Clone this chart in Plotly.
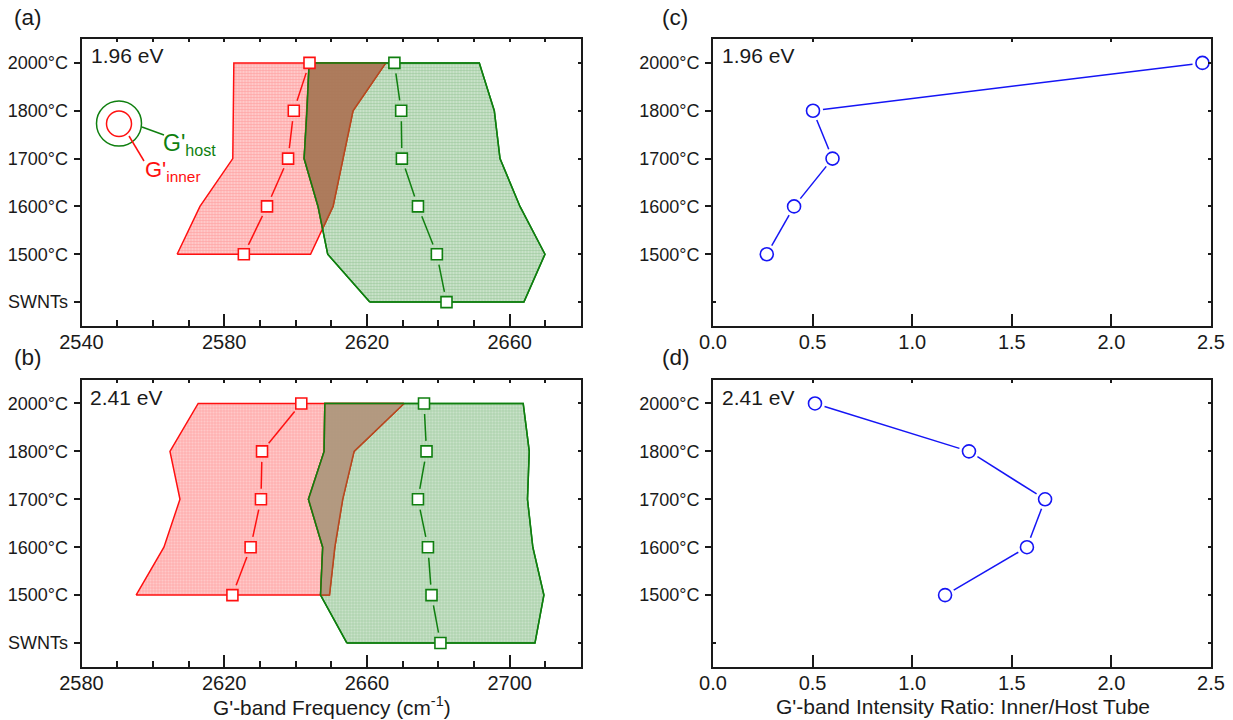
import plotly.graph_objects as go

# ---- data ----
categories = ["SWNTs", "1500°C", "1600°C", "1700°C", "1800°C", "2000°C"]
y_pos = [0, 1, 2, 3, 4, 5]

a_red_left = [2566.8, 2573.2, 2582.4, 2582.6, 2582.7]
a_red_right = [2604.2, 2610.5, 2613.3, 2616.1, 2625.3]
a_green_left = [2620.8, 2609.0, 2606.3, 2602.4, 2603.2, 2603.8]
a_green_right = [2664.0, 2669.9, 2662.9, 2657.3, 2655.7, 2651.5]
a_red_peak = [2585.5, 2592.0, 2597.9, 2599.5, 2603.9]
a_green_peak = [2642.3, 2639.6, 2634.3, 2629.8, 2629.6, 2627.7]

b_red_left = [2595.3, 2603.1, 2607.6, 2604.8, 2612.7]
b_red_right = [2649.5, 2651.0, 2653.2, 2656.4, 2670.4]
b_green_left = [2654.4, 2647.0, 2647.6, 2643.6, 2648.0, 2648.2]
b_green_right = [2707.1, 2709.6, 2706.5, 2705.0, 2705.5, 2703.8]
b_red_peak = [2622.3, 2627.4, 2630.3, 2630.6, 2641.6]
b_green_peak = [2680.6, 2678.1, 2677.1, 2674.3, 2676.7, 2676.0]

c_ratio = [0.27, 0.407, 0.60, 0.502, 2.457]
d_ratio = [1.165, 1.576, 1.667, 1.285, 0.512]

# ---- layout geometry (pixels) ----
W, H = 1233, 720
L1, R1, L2, R2 = 81.5, 581, 713, 1211
T1, B1, T2, B2 = 39, 326, 379.5, 667
RED, GREEN, BLUE = "#FF1010", "#0F7F0F", "#1515F5"
INK = "#1a1a1a"
FONT = "Liberation Sans, Arial, sans-serif"

def fx(p): return p / W
def fy(p): return 1 - p / H

def gapped(xs, ys, sx, sy, gap):
    ox, oy = [], []
    for i in range(len(xs) - 1):
        dx = (xs[i + 1] - xs[i]) * sx
        dy = (ys[i + 1] - ys[i]) * sy
        d = (dx * dx + dy * dy) ** 0.5
        if d <= 2 * gap:
            continue
        t = gap / d
        ox += [xs[i] + (xs[i + 1] - xs[i]) * t, xs[i + 1] - (xs[i + 1] - xs[i]) * t, None]
        oy += [ys[i] + (ys[i + 1] - ys[i]) * t, ys[i + 1] - (ys[i + 1] - ys[i]) * t, None]
    return ox, oy

fig = go.Figure()

def band(xa, ya, left, right, ys, line, bg, fg):
    fig.add_trace(go.Scatter(
        x=list(left) + list(right)[::-1] + [left[0]], y=list(ys) + list(ys)[::-1] + [ys[0]],
        xaxis=xa, yaxis=ya, mode="lines", line=dict(color=line, width=1.5),
        fill="toself", fillcolor=bg,
        fillpattern=dict(shape="+", size=3, solidity=0.3, fgcolor=fg, bgcolor=bg, fillmode="replace"),
        hoverinfo="skip", showlegend=False))

def overlap(xa, ya, red_right, green_left, ys, color, edge):
    # region where the green band's left edge lies left of the red band's right edge
    gl = green_left[1:]
    pl, pr, py = [], [], []
    for i in range(len(ys)):
        if gl[i] <= red_right[i]:
            pl.append(gl[i]); pr.append(red_right[i]); py.append(ys[i])
        elif i + 1 < len(ys):
            d0, d1 = red_right[i] - gl[i], red_right[i + 1] - gl[i + 1]
            t = d0 / (d0 - d1)
            x = gl[i] + (gl[i + 1] - gl[i]) * t
            pl.append(x); pr.append(x); py.append(ys[i] + (ys[i + 1] - ys[i]) * t)
    fig.add_trace(go.Scatter(x=pl + pr[::-1] + [pl[0]], y=py + py[::-1] + [py[0]],
                             xaxis=xa, yaxis=ya, mode="lines", line=dict(color=edge, width=1.5),
                             fill="toself", fillcolor=color, hoverinfo="skip", showlegend=False))

def outline(xa, ya, left, right, ys, line):
    fig.add_trace(go.Scatter(x=list(left) + list(right)[::-1] + [left[0]], y=list(ys) + list(ys)[::-1] + [ys[0]],
                             xaxis=xa, yaxis=ya, mode="lines", line=dict(color=line, width=1.5),
                             hoverinfo="skip", showlegend=False))

def series(xa, ya, xs, ys, color, symbol, size, sx, sy, gap):
    lx, ly = gapped(xs, ys, sx, sy, gap)
    fig.add_trace(go.Scatter(x=lx, y=ly, xaxis=xa, yaxis=ya, mode="lines",
                             line=dict(color=color, width=1.5), showlegend=False))
    fig.add_trace(go.Scatter(x=xs, y=ys, xaxis=xa, yaxis=ya, mode="markers",
                             marker=dict(symbol=symbol, size=size, color="white",
                                         line=dict(color=color, width=1.6)), showlegend=False))

sx_f = (R1 - L1) / 140
sy_f = (B1 - T1) / 6
sx_r = (R2 - L2) / 2.5

PINK_BG, PINK_FG = "rgba(255,60,60,0.28)", "rgba(255,60,60,0.34)"
GRN_BG, GRN_FG = "rgba(40,140,40,0.25)", "rgba(30,130,30,0.30)"

band("x", "y", a_red_left, a_red_right, y_pos[1:], RED, PINK_BG, PINK_FG)
band("x", "y", a_green_left, a_green_right, y_pos, GREEN, GRN_BG, GRN_FG)
overlap("x", "y", a_red_right, a_green_left, y_pos[1:], "rgba(172,120,90,0.95)", "#B8481E")
outline("x", "y", a_green_left, a_green_right, y_pos, GREEN)
series("x", "y", a_red_peak, y_pos[1:], RED, "square", 11, sx_f, sy_f, 10.5)
series("x", "y", a_green_peak, y_pos, GREEN, "square", 11, sx_f, sy_f, 10.5)

band("x2", "y2", b_red_left, b_red_right, y_pos[1:], RED, PINK_BG, PINK_FG)
band("x2", "y2", b_green_left, b_green_right, y_pos, GREEN, GRN_BG, GRN_FG)
overlap("x2", "y2", b_red_right, b_green_left, y_pos[1:], "rgba(178,152,128,0.95)", "#B8481E")
outline("x2", "y2", b_green_left, b_green_right, y_pos, GREEN)
series("x2", "y2", b_red_peak, y_pos[1:], RED, "square", 11, sx_f, sy_f, 10.5)
series("x2", "y2", b_green_peak, y_pos, GREEN, "square", 11, sx_f, sy_f, 10.5)

series("x3", "y3", c_ratio, y_pos[1:], BLUE, "circle", 13, sx_r, sy_f, 10)
series("x4", "y4", d_ratio, y_pos[1:], BLUE, "circle", 13, sx_r, sy_f, 10)

layout = dict(width=W, height=H, margin=dict(l=0, r=0, t=0, b=0),
              paper_bgcolor="white", plot_bgcolor="white", showlegend=False,
              font=dict(family=FONT, color=INK))

def axes(n, dom_x, dom_y, xr, xticks, xticktext, minor, labels):
    s = "" if n == 1 else str(n)
    xa = dict(domain=[fx(dom_x[0]), fx(dom_x[1])], range=xr, tickmode="array", tickvals=xticks,
              ticktext=xticktext, ticks="inside", ticklen=12, tickwidth=1.5, tickcolor=INK,
              showline=True, linecolor=INK, linewidth=2, showgrid=False, zeroline=False,
              tickfont=dict(size=20, color=INK), anchor="y" + s, fixedrange=True, automargin=False,
              ticklabelstandoff=-3)
    if minor:
        xa["minor"] = dict(dtick=minor, tick0=xr[0], ticks="inside", ticklen=6, tickwidth=1.5,
                           tickcolor=INK, showgrid=False)
    ya = dict(domain=[fy(dom_y[1]), fy(dom_y[0])], range=[-0.5, 5.5], tickmode="array",
              tickvals=y_pos if labels else y_pos[1:],
              ticktext=categories if labels else categories[1:],
              ticks="outside", ticklen=6, tickwidth=1.5, tickcolor=INK, showline=True,
              linecolor=INK, linewidth=2, showgrid=False, zeroline=False,
              tickfont=dict(size=18, color=INK), anchor="x" + s, fixedrange=True, automargin=False,
              ticklabelstandoff=2)
    if not labels:
        ya["minor"] = dict(tickvals=[0], ticks="inside", ticklen=3, tickwidth=1.5, tickcolor=INK, showgrid=False)
    layout["xaxis" + s] = xa
    layout["yaxis" + s] = ya
    # short ticks on top and right
    m = n + 4
    xt = dict(overlaying="x" + s, side="top", anchor="y%d" % m, range=xr, showticklabels=False,
              ticks="inside", ticklen=3, tickwidth=1.5, tickcolor=INK, showline=True,
              linecolor=INK, linewidth=2, showgrid=False, zeroline=False, fixedrange=True,
              domain=xa["domain"])
    if minor:
        xt.update(tick0=xr[0], dtick=minor)
    else:
        xt.update(tickmode="array", tickvals=xticks)
    yt = dict(overlaying="y" + s, side="right", anchor="x%d" % m, range=[-0.5, 5.5], showticklabels=False,
              tickmode="array", tickvals=y_pos, ticks="inside", ticklen=3, tickwidth=1.5, tickcolor=INK,
              showline=True, linecolor=INK, linewidth=2, showgrid=False, zeroline=False,
              fixedrange=True, domain=ya["domain"])
    layout["xaxis%d" % m] = xt
    layout["yaxis%d" % m] = yt
    fig.add_trace(go.Scatter(x=[None], y=[None], xaxis="x%d" % m, yaxis="y%d" % m, showlegend=False))

ax_a = [2540, 2580, 2620, 2660]
ax_b = [2580, 2620, 2660, 2700]
ax_r = [0, 0.5, 1.0, 1.5, 2.0, 2.5]
ax_r_text = ["0.0", "0.5", "1.0", "1.5", "2.0", "2.5"]
axes(1, (L1, R1), (T1, B1), [2540, 2680], ax_a, [str(v) for v in ax_a], 10, True)
axes(2, (L1, R1), (T2, B2), [2580, 2720], ax_b, [str(v) for v in ax_b], 10, True)
axes(3, (L2, R2), (T1, B1), [0, 2.5], ax_r, ax_r_text, None, False)
axes(4, (L2, R2), (T2, B2), [0, 2.5], ax_r, ax_r_text, None, False)

def note(text, x, y, color=INK, size=20, anchor="left"):
    return dict(text=text, x=fx(x), y=fy(y), xref="paper", yref="paper", showarrow=False,
                xanchor=anchor, yanchor="middle", font=dict(size=size, color=color, family=FONT))

layout["annotations"] = [
    note("(a)", 12, 17, size=22.5), note("(b)", 12, 357, size=22.5),
    note("(c)", 660, 17, size=22.5), note("(d)", 660, 357, size=22.5),
    note("1.96 eV", 89, 56, size=21), note("2.41 eV", 88, 397, size=21),
    note("1.96 eV", 720, 56, size=21), note("2.41 eV", 720, 397, size=21),
    note("G'<sub>host</sub>", 161, 145, GREEN, 23),
    note("G'<sub>inner</sub>", 143, 171, RED, 22),
    note("G'-band Frequency (cm<sup>-1</sup>)", 332, 706, size=20.8, anchor="center"),
    note("G'-band Intensity Ratio: Inner/Host Tube", 963, 706, size=21, anchor="center"),
]

def px_shape(kind, x0, y0, x1, y1, color):
    return dict(type=kind, xref="paper", yref="paper", x0=fx(x0), y0=fy(y0), x1=fx(x1), y1=fy(y1),
                line=dict(color=color, width=1.5), layer="above")

layout["shapes"] = [
    px_shape("circle", 96.5, 101, 141.5, 146, GREEN),
    px_shape("circle", 106.5, 111, 131.5, 136.5, RED),
    px_shape("line", 142, 127, 164, 135, GREEN),
    px_shape("line", 129, 136, 144, 161, RED),
]

fig.update_layout(**layout)
fig.write_html("out.html", config={"displayModeBar": False},
               post_script="document.body.style.margin='0';")
